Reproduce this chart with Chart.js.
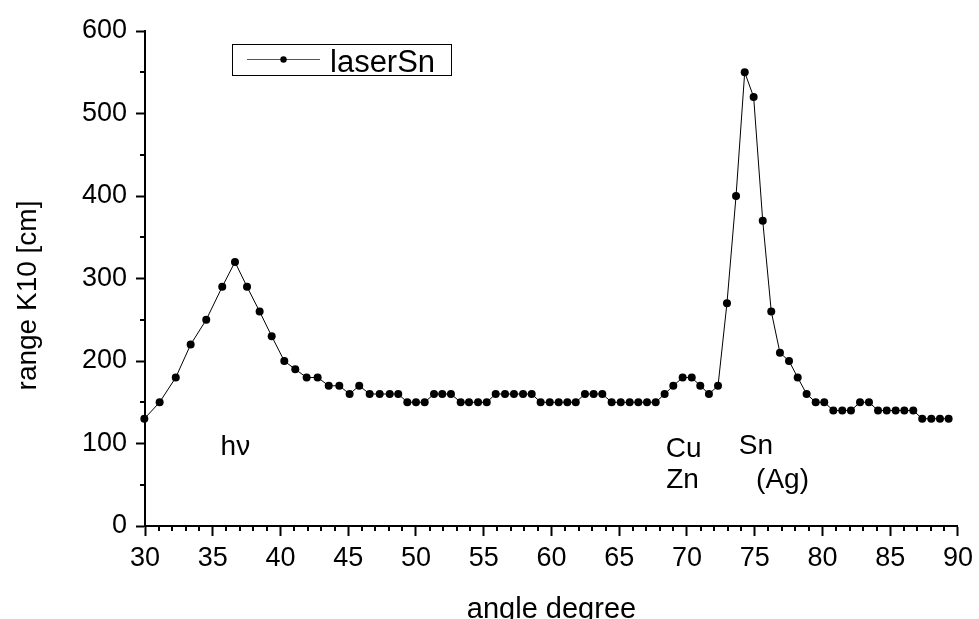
<!DOCTYPE html>
<html>
<head>
<meta charset="utf-8">
<script src="https://cdn.jsdelivr.net/npm/chart.js@4"></script>
<style>
html,body{margin:0;padding:0;background:#fff;}
#wrap{width:979px;height:619px;position:relative;}
</style>
</head>
<body>
<div id="wrap"><canvas id="c" width="979" height="619"></canvas></div>
<script>
// ---- data ----
const seriesName = 'laserSn';
const angles = [29.95,31.08,32.27,33.37,34.52,35.70,36.64,37.53,38.46,39.35,
  40.28,41.09,41.93,42.74,43.56,44.34,45.10,45.81,46.58,47.32,
  48.06,48.69,49.36,50.00,50.64,51.33,51.94,52.58,53.30,53.91,
  54.58,55.22,55.88,56.57,57.23,57.90,58.54,59.20,59.87,60.53,
  61.17,61.79,62.47,63.11,63.75,64.44,65.11,65.77,66.41,67.05,
  67.69,68.35,68.99,69.68,70.35,70.98,71.62,72.29,72.95,73.62,
  74.26,74.92,75.59,76.22,76.86,77.53,78.17,78.83,79.50,80.13,
  80.80,81.46,82.10,82.77,83.43,84.10,84.74,85.40,86.04,86.70,
  87.36,88.03,88.67,89.31];
const ranges = [130,150,180,220,250,290,320,290,260,230,
  200,190,180,180,170,170,160,170,160,160,
  160,160,150,150,150,160,160,160,150,150,
  150,150,160,160,160,160,160,150,150,150,
  150,150,160,160,160,150,150,150,150,150,
  150,160,170,180,180,170,160,170,270,400,
  550,520,370,260,210,200,180,160,150,150,
  140,140,140,150,150,140,140,140,140,140,
  130,130,130,130];
const xTitle = 'angle degree';
const yTitle = 'range K10 [cm]';
const annotationTexts = ['h\u03BD', 'Cu', 'Zn', 'Sn', '(Ag)'];
const annotationX = [35.58, 68.44, 68.47, 73.82, 75.1];
const annotationY = [86, 84, 46.4, 86.8, 46.4];

const FONT = "'Liberation Sans', Arial, Helvetica, sans-serif";
const points = angles.map((a,i)=>({x:a, y:ranges[i]}));

const extras = {
  id:'extras',
  afterDraw(chart){
    const ctx = chart.ctx;
    const xs = chart.scales.x, ys = chart.scales.y;
    const ca = chart.chartArea;
    ctx.save();
    // minor ticks
    ctx.strokeStyle = '#000';
    ctx.lineWidth = 2;
    ctx.beginPath();
    for (let v = 30; v <= 90; v += 1) {
      if (v % 5 === 0) continue;
      const px = Math.round(xs.getPixelForValue(v));
      ctx.moveTo(px, ca.bottom);
      ctx.lineTo(px, ca.bottom + 5);
    }
    for (let v = 50; v < 600; v += 100) {
      const py = Math.round(ys.getPixelForValue(v));
      ctx.moveTo(ca.left, py);
      ctx.lineTo(ca.left - 5, py);
    }
    ctx.stroke();

    // legend
    ctx.lineWidth = 1;
    ctx.strokeStyle = '#000';
    ctx.strokeRect(232.5, 44.5, 219, 31);
    ctx.strokeStyle = '#555';
    ctx.beginPath();
    ctx.moveTo(247, 59.5); ctx.lineTo(320, 59.5);
    ctx.stroke();
    ctx.fillStyle = '#000';
    ctx.beginPath();
    ctx.arc(283.5, 59.5, 3.2, 0, Math.PI*2);
    ctx.fill();
    ctx.font = '31px ' + FONT;
    ctx.textBaseline = 'alphabetic';
    ctx.textAlign = 'left';
    ctx.fillText(seriesName, 330, 71.5);

    // annotations
    ctx.font = '28px ' + FONT;
    annotationTexts.forEach((t,i)=>{
      ctx.fillText(t, xs.getPixelForValue(annotationX[i]), ys.getPixelForValue(annotationY[i]));
    });

    // y title
    ctx.translate(36, 295.5);
    ctx.rotate(-Math.PI/2);
    ctx.textAlign = 'center';
    ctx.font = '28px ' + FONT;
    ctx.fillText(yTitle, 0, 0);
    ctx.restore();
  }
};

new Chart(document.getElementById('c'), {
  type: 'scatter',
  data: {
    datasets: [{
      label: seriesName,
      data: points,
      showLine: true,
      borderColor: '#000',
      borderWidth: 1,
      backgroundColor: '#000',
      pointRadius: 4,
      pointBorderWidth: 0,
      pointHoverRadius: 4,
      tension: 0,
      clip: false
    }]
  },
  options: {
    responsive: false,
    animation: false,
    events: [],
    layout: { padding: { top: 31, right: 20, left: 0, bottom: 0 } },
    plugins: { legend: { display: false }, tooltip: { enabled: false } },
    scales: {
      x: {
        type: 'linear',
        min: 30, max: 90,
        afterFit(s){ s.height = 93; },
        border: { display: true, color: '#000', width: 2 },
        grid: { drawOnChartArea: false, drawTicks: true, tickLength: 10, tickWidth: 2, tickColor: '#000' },
        ticks: { stepSize: 5, color: '#000', font: { family: FONT, size: 27 }, padding: 6, maxRotation: 0, autoSkip: false },
        title: { display: true, text: xTitle, color: '#000', font: { family: FONT, size: 29, lineHeight: 1.2 }, padding: { top: 0, bottom: -8 } }
      },
      y: {
        type: 'linear',
        min: 0, max: 600,
        afterFit(s){ s.width = 145; },
        border: { display: true, color: '#000', width: 2 },
        grid: { drawOnChartArea: false, drawTicks: true, tickLength: 9, tickWidth: 2, tickColor: '#000' },
        ticks: { stepSize: 100, color: '#000', font: { family: FONT, size: 27 }, padding: 9 }
      }
    }
  },
  plugins: [extras]
});
</script>
</body>
</html>
